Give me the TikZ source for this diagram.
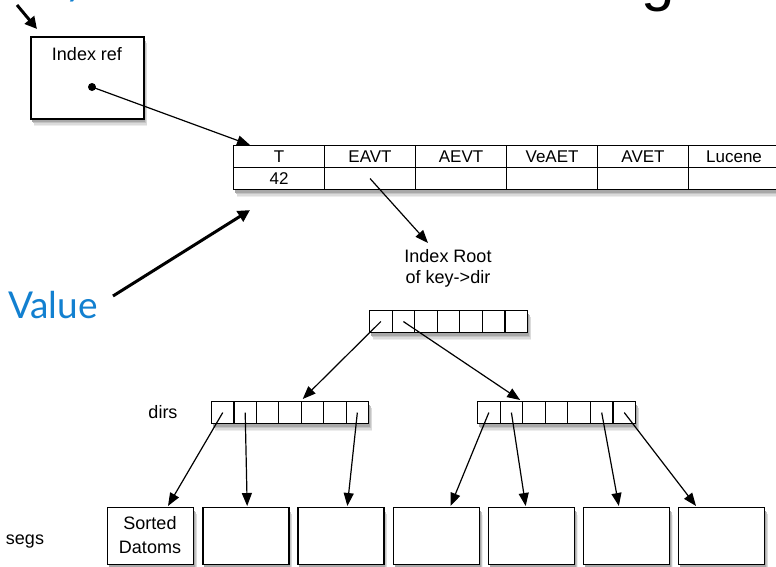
\documentclass[tikz,border=0pt]{standalone}
\usepackage{fontspec}
\setmainfont{Liberation Sans}
\newfontfamily\valuefont{Lato}
\usetikzlibrary{arrows.meta,calc}
\definecolor{keyblue}{RGB}{18,128,208}
\definecolor{shA}{rgb}{0.93,0.93,0.93}
\definecolor{shB}{rgb}{0.86,0.86,0.86}
\definecolor{shC}{rgb}{0.77,0.77,0.77}
\definecolor{shD}{rgb}{0.66,0.66,0.66}
\newcommand\mkshadow[4]{%
  \fill[shA] ({#1+4},{#2+8}) rectangle ({#3+4},{#4+8});
  \fill[shB] ({#1+3.5},{#2+6.5}) rectangle ({#3+3.5},{#4+6.5});
  \fill[shC] ({#1+3},{#2+5}) rectangle ({#3+3},{#4+5});
  \fill[shD] ({#1+2},{#2+3.5}) rectangle ({#3+2},{#4+3.5});
  \fill[white] (#1,#2) rectangle (#3,#4);
}
\begin{document}
\begin{tikzpicture}[x=1pt,y=-1pt,
  cell/.style={draw, line width=1.1pt, minimum width=91pt, minimum height=22pt, inner sep=0pt, anchor=north west, font=\fontsize{17}{17}\selectfont},
  acell/.style={draw, line width=1.1pt, minimum width=22.5pt, minimum height=22pt, inner sep=0pt, anchor=north west},
  segbox/.style={draw, line width=1.4pt, minimum width=86pt, minimum height=57pt, inner sep=0pt, anchor=north west},
  lbl/.style={font=\fontsize{18}{21}\selectfont, inner sep=0pt, anchor=base},
  ptr/.style={line width=1.2pt, -{Triangle[length=13pt,width=10pt]}},
  bigarrow/.style={line width=3pt, -{Triangle[length=12pt,width=12pt]}}
]
\useasboundingbox (0,0) rectangle (776,566);

% cut-off title fragments at the top edge
\node[font=\fontsize{60}{60}\selectfont, anchor=base, inner sep=0pt] (titleg) at (658,-1) {g};
\node[font=\valuefont\fontsize{38}{38}\selectfont, text=keyblue, anchor=base, inner sep=0pt] (titley) at (75,-5) {y};

% Index ref box
\mkshadow{30}{36}{143}{118}
\node[draw, line width=1.6pt, minimum width=113pt, minimum height=82pt, inner sep=0pt, anchor=north west] (ref) at (30,36) {};
\node[lbl] (reftext) at (87,60) {Index ref};
\coordinate (refdot) at ($(ref.north west)+(62,51)$);
\fill (refdot) circle (4pt);

% top-left arrow into Index ref
\coordinate (kstart) at (17,5);
\coordinate (ktip) at ($(ref.north west)+(7,-7)$);
\draw[bigarrow] (kstart) -- (ktip);

% table
\mkshadow{233}{145}{790}{189}
\foreach \i/\t in {1/T,2/EAVT,3/AEVT,4/VeAET,5/AVET,6/Lucene,7/{}}{
  \node[cell] (t\i) at ({233+91*(\i-1)},145) {\t};
}
\foreach \i/\t in {1/42,2/{},3/{},4/{},5/{},6/{},7/{}}{
  \node[cell] (v\i) at ({233+91*(\i-1)},167) {\t};
}

% Index ref -> table
\draw[ptr] (refdot) -- ($(t1.north west)+(17,0)$);

% Value label and arrow
\node[font=\valuefont\fontsize{37}{37}\selectfont, text=keyblue, anchor=base, inner sep=0pt] (value) at (53,318) {Value};
\coordinate (vstart) at (113,296);
\coordinate (vtip) at ($(v1.south west)+(17,20)$);
\draw[bigarrow] (vstart) -- (vtip);

% Index root label
\node[lbl, align=center, anchor=north] (idxroot) at (448,249) {Index Root\\of key->dir};
\coordinate (rootin) at (428,243);
\draw[ptr] (v2.center) -- (rootin);

% root array
\mkshadow{369}{310}{527}{332}
\foreach \i in {1,...,7}{
  \node[acell, minimum width=22.57pt] (r\i) at ({369+22.57*(\i-1)},310) {};
}

% dir arrays
\mkshadow{211}{401}{368}{423}
\foreach \i in {1,...,7}{
  \node[acell, minimum width=22.43pt] (l\i) at ({211+22.43*(\i-1)},401) {};
}
\mkshadow{477}{401}{635}{423}
\foreach \i in {1,...,7}{
  \node[acell, minimum width=22.57pt] (q\i) at ({477+22.57*(\i-1)},401) {};
}
\node[lbl] (dirs) at (163,418) {dirs};

\draw[ptr] (r1.center) -- ($(l5.north west)+(2,-2)$);
\draw[ptr] (r2.center) -- ($(q3.north west)+(-2,-1)$);

% segments
\foreach \i in {1,...,7}{
  \pgfmathsetmacro\sx{107+95.17*(\i-1)}
  \mkshadow{\sx}{507}{\sx+86}{564}
  \node[segbox] (s\i) at (\sx,507) {};
}
\node[lbl] (sorted) at (150,529) {Sorted};
\node[lbl] (datoms) at (150,553) {Datoms};
\node[lbl] (segs) at (25,544) {segs};

\draw[ptr] (l1.center) -- ($(s1.north west)+(61,-1)$);
\draw[ptr] (l2.center) -- ($(s2.north west)+(45,-1)$);
\draw[ptr] (l7.center) -- ($(s3.north west)+(50,-1)$);
\draw[ptr] (q1.center) -- ($(s4.north west)+(58,-1)$);
\draw[ptr] (q2.center) -- ($(s5.north west)+(38,-1)$);
\draw[ptr] (q6.center) -- ($(s6.north west)+(36,-1)$);
\draw[ptr] (q7.center) -- ($(s7.north west)+(18,-1)$);
\end{tikzpicture}
\end{document}
